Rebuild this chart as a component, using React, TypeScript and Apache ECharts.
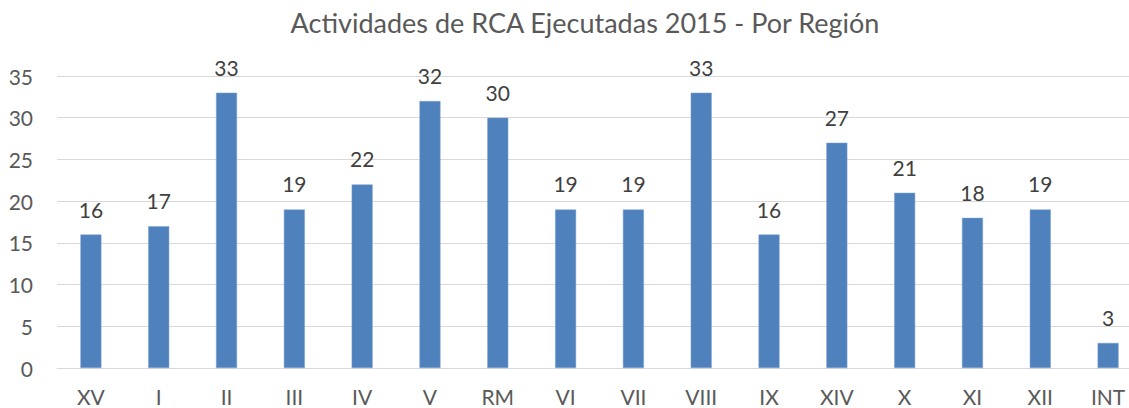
import React, { useEffect, useRef } from "react";
import * as echarts from "echarts";

const categories = ["XV", "I", "II", "III", "IV", "V", "RM", "VI", "VII", "VIII", "IX", "XIV", "X", "XI", "XII", "INT"];
const values = [16, 17, 33, 19, 22, 32, 30, 19, 19, 33, 16, 27, 21, 18, 19, 3];
const titleText = "Actividades de RCA Ejecutadas 2015 - Por Región";

export default function App() {
  const ref = useRef<HTMLDivElement>(null);
  useEffect(() => {
    if (!ref.current) return;
    const chart = echarts.init(ref.current, null, { renderer: "svg" });
    const font = "Lato, 'Open Sans', sans-serif";
    chart.setOption({
      animation: false,
      backgroundColor: "#ffffff",
      title: {
        text: titleText,
        left: 580,
        top: 4,
        textAlign: "center",
        textStyle: { fontFamily: font, fontSize: 27, fontWeight: "normal", color: "#595959" },
      },
      grid: { left: 57, right: 0, top: 76, bottom: 40, containLabel: false },
      xAxis: {
        type: "category",
        data: categories,
        axisLine: { show: true, lineStyle: { color: "#d9d9d9", width: 1 } },
        axisTick: { show: false },
        axisLabel: { fontFamily: font, fontSize: 21, color: "#595959", margin: 18, lineHeight: 21 },
      },
      yAxis: {
        type: "value",
        min: 0,
        max: 35,
        interval: 5,
        axisLine: { show: false },
        axisTick: { show: false },
        splitLine: { lineStyle: { color: "#d9d9d9", width: 1 } },
        axisLabel: { fontFamily: font, fontSize: 21, color: "#595959", margin: 24 },
      },
      series: [
        {
          type: "bar",
          data: values,
          barWidth: 21,
          itemStyle: { color: "#4f81bd", borderColor: "#7ea3d2", borderWidth: 0.5 },
          label: {
            show: true,
            position: "top",
            distance: 15,
            fontFamily: font,
            fontSize: 21,
            color: "#404040",
          },
        },
      ],
    });
    return () => chart.dispose();
  }, []);
  return <div ref={ref} style={{ position: "fixed", left: 0, top: 0, width: 1142, height: 408 }} />;
}
